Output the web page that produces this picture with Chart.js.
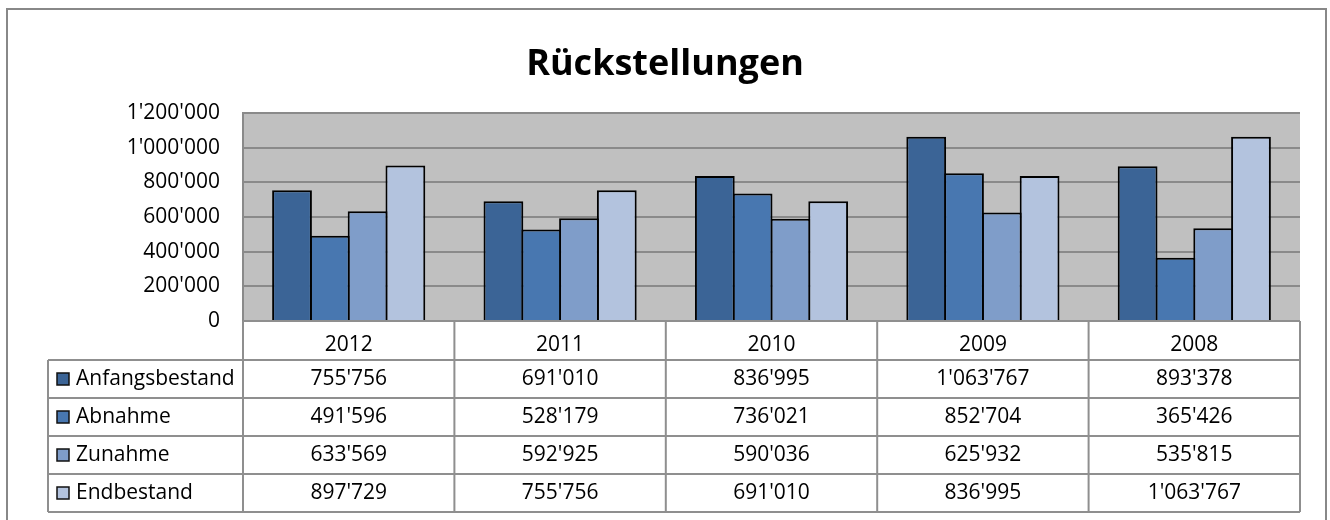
<!DOCTYPE html>
<html>
<head>
<meta charset="utf-8">
<script src="https://cdn.jsdelivr.net/npm/chart.js@4/dist/chart.umd.min.js"></script>
<style>
    html, body { margin: 0; padding: 0; background: #fff; }
    #wrap { width: 1330px; height: 520px; }
</style>
</head>
<body>
<div id="wrap"><canvas id="chart" width="1330" height="520"></canvas></div>
<script>
// Daten
const years = ['2012', '2011', '2010', '2009', '2008'];
const anfangsbestand = [755756, 691010, 836995, 1063767, 893378];
const abnahme = [491596, 528179, 736021, 852704, 365426];
const zunahme = [633569, 592925, 590036, 625932, 535815];
const endbestand = [897729, 755756, 691010, 836995, 1063767];
const yTicks = [0, 200000, 400000, 600000, 800000, 1000000, 1200000];

const seriesNames = ['Anfangsbestand', 'Abnahme', 'Zunahme', 'Endbestand'];
const seriesData = [anfangsbestand, abnahme, zunahme, endbestand];
const seriesColors = ['#3b6496', '#4877b0', '#7f9dc9', '#b3c3de'];

const FONT = '"Open Sans", "Noto Sans", sans-serif';

// 1'234'567
function fmt(v) {
    return String(v).replace(/\B(?=(\d{3})+(?!\d))/g, "'");
}

// Hintergrund der Zeichenfläche + Rahmen
const backgroundPlugin = {
    id: 'plotBackground',
    beforeDraw(chart) {
        const ctx = chart.ctx, a = chart.chartArea;
        ctx.save();
        ctx.fillStyle = '#fff';
        ctx.fillRect(0, 0, chart.width, chart.height);
        ctx.strokeStyle = '#888';
        ctx.lineWidth = 2;
        ctx.strokeRect(7, 9, 1319, 530);
        ctx.fillStyle = '#c0c0c0';
        ctx.fillRect(a.left, a.top, a.right - a.left, a.bottom - a.top);
        ctx.restore();
    }
};

// Datentabelle unter dem Diagramm
const dataTablePlugin = {
    id: 'dataTable',
    afterDraw(chart) {
        const ctx = chart.ctx;
        const x = chart.scales.x;
        const top = chart.chartArea.bottom;
        const headBottom = x.bottom;
        const rowH = 38;
        const tableLeft = 48;
        const n = years.length;
        const colW = (x.right - x.left) / n;
        const bottom = headBottom + rowH * seriesNames.length;

        ctx.save();
        ctx.strokeStyle = '#8f8f8f';
        ctx.lineWidth = 2;
        ctx.beginPath();
        ctx.moveTo(x.left, top); ctx.lineTo(x.right, top);
        for (let i = 0; i <= seriesNames.length; i++) {
            const y = headBottom + i * rowH;
            ctx.moveTo(tableLeft, y); ctx.lineTo(x.right, y);
        }
        ctx.moveTo(tableLeft, headBottom); ctx.lineTo(tableLeft, bottom);
        for (let i = 0; i <= n; i++) {
            const xx = x.left + i * colW;
            ctx.moveTo(xx, top); ctx.lineTo(xx, bottom);
        }
        ctx.stroke();

        ctx.font = '21px ' + FONT;
        ctx.textBaseline = 'middle';
        seriesNames.forEach((name, r) => {
            const cy = headBottom + r * rowH + rowH / 2;
            // Legendensymbol
            ctx.fillStyle = seriesColors[r];
            ctx.fillRect(57, cy - 6, 12, 12);
            ctx.strokeStyle = '#111';
            ctx.lineWidth = 1.5;
            ctx.strokeRect(57, cy - 6, 12, 12);
            ctx.fillStyle = '#000';
            ctx.textAlign = 'left';
            ctx.fillText(name, 76, cy);
            ctx.textAlign = 'center';
            seriesData[r].forEach((v, c) => {
                ctx.fillText(fmt(v), x.left + c * colW + colW / 2, cy);
            });
        });
        ctx.restore();
    }
};

new Chart(document.getElementById('chart'), {
    type: 'bar',
    data: {
        labels: years,
        datasets: seriesNames.map((name, i) => ({
            label: name,
            data: seriesData[i],
            backgroundColor: seriesColors[i],
            borderColor: '#000',
            borderWidth: 2,
            categoryPercentage: 0.715,
            barPercentage: 1.053
        }))
    },
    options: {
        responsive: false,
        animation: false,
        layout: { padding: { top: 10, left: 30, right: 30, bottom: 160 } },
        plugins: {
            legend: { display: false },
            tooltip: { enabled: false },
            title: {
                display: true,
                text: 'Rückstellungen',
                color: '#000',
                font: { family: FONT, size: 36, weight: 'bold', lineHeight: 1.2 },
                padding: { top: 33, bottom: 27 }
            }
        },
        scales: {
            x: {
                grid: { display: false },
                border: { display: false },
                ticks: { color: '#000', font: { family: FONT, size: 21 }, padding: 3 },
                afterFit(scale) { scale.height = 39; }
            },
            y: {
                min: 0,
                max: 1200000,
                afterBuildTicks(scale) { scale.ticks = yTicks.map(v => ({ value: v })); },
                grid: { color: '#8a8a8a', lineWidth: 2, drawTicks: false },
                border: { display: true, color: '#8a8a8a', width: 2 },
                ticks: {
                    color: '#000',
                    font: { family: FONT, size: 21 },
                    padding: 23,
                    callback: v => fmt(v)
                },
                afterFit(scale) { scale.width = 213; }
            }
        }
    },
    plugins: [backgroundPlugin, dataTablePlugin]
});
</script>
</body>
</html>
